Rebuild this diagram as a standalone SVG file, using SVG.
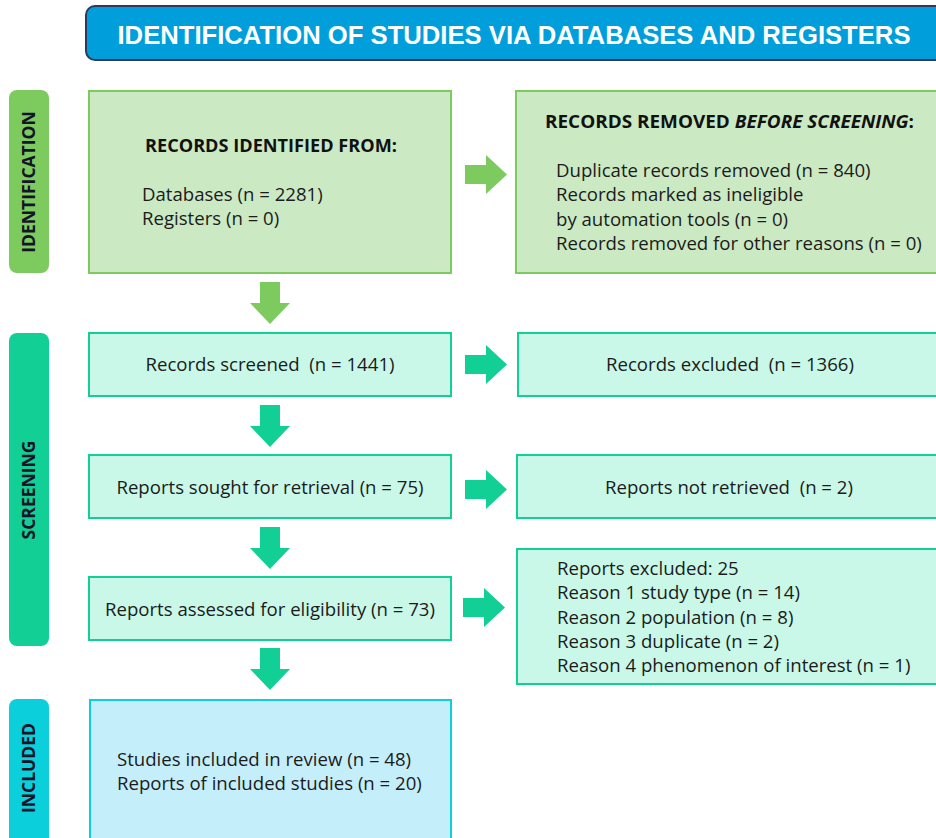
<svg xmlns="http://www.w3.org/2000/svg" width="936" height="838" viewBox="0 0 936 838">
<defs>
<style>
.t{font-family:"Open Sans","DejaVu Sans",sans-serif;font-size:18.6px;fill:#1b1b1b}
.h{font-family:"Open Sans","DejaVu Sans",sans-serif;font-size:17.5px;font-weight:bold;fill:#111}
.side{font-family:"Open Sans","DejaVu Sans",sans-serif;font-size:17.5px;font-weight:bold;fill:#141428}
.idb{fill:#cbe9c3;stroke:#7dcb5f;stroke-width:2}
.scb{fill:#c9f8e8;stroke:#12cf96;stroke-width:2}
.inb{fill:#c5eefb;stroke:#0bcfdb;stroke-width:2}
.ga{fill:#7dcb5f}
.sa{fill:#12cf96}
</style>
<path id="ar" d="M0,10 H21 V0 L42,19.5 L21,39 V29 H0 Z"/>
<path id="ad" d="M10,0 H30 V21 H40 L20,42 L0,21 H10 Z"/>
</defs>

<g id="title">
<rect x="86" y="6" width="862" height="54" rx="9" fill="#009fdb" stroke="#2e3a59" stroke-width="2"/>
<text x="514" y="44" text-anchor="middle" font-family="Liberation Sans, Arial, sans-serif" font-weight="bold" font-size="25" fill="#ffffff" textLength="793" lengthAdjust="spacingAndGlyphs">IDENTIFICATION OF STUDIES VIA DATABASES AND REGISTERS</text>
</g>

<g id="side-identification">
<rect x="9" y="90" width="40" height="183" rx="8" fill="#7dcb5f"/>
<text class="side" transform="translate(35,182) rotate(-90)" text-anchor="middle">IDENTIFICATION</text>
</g>
<g id="side-screening">
<rect x="9" y="333" width="40" height="313" rx="8" fill="#12cf96"/>
<text class="side" transform="translate(35,490) rotate(-90)" text-anchor="middle">SCREENING</text>
</g>
<g id="side-included">
<rect x="9" y="699" width="40" height="150" rx="8" fill="#0bcfdb"/>
<text class="side" transform="translate(35,768) rotate(-90)" text-anchor="middle">INCLUDED</text>
</g>

<g id="records-identified">
<rect class="idb" x="89" y="91" width="362" height="182"/>
<text class="h" x="145" y="152" textLength="252" lengthAdjust="spacingAndGlyphs">RECORDS IDENTIFIED FROM:</text>
<text class="t" x="142" y="201">Databases (n = 2281)</text>
<text class="t" x="142" y="225">Registers (n = 0)</text>
</g>

<g id="records-removed">
<rect class="idb" x="516" y="91" width="430" height="182"/>
<text class="h" x="545" y="128" textLength="369" lengthAdjust="spacingAndGlyphs">RECORDS REMOVED <tspan font-style="italic">BEFORE SCREENING</tspan>:</text>
<text class="t" x="556" y="177">Duplicate records removed (n = 840)</text>
<text class="t" x="556" y="201">Records marked as ineligible</text>
<text class="t" x="556" y="226">by automation tools (n = 0)</text>
<text class="t" x="556" y="250">Records removed for other reasons (n = 0)</text>
</g>

<g id="records-screened">
<rect class="scb" x="89" y="333" width="362" height="63"/>
<text class="t" x="270" y="371" text-anchor="middle" xml:space="preserve">Records screened  (n = 1441)</text>
</g>
<g id="records-excluded">
<rect class="scb" x="518" y="333" width="428" height="63"/>
<text class="t" x="730" y="371" text-anchor="middle" xml:space="preserve">Records excluded  (n = 1366)</text>
</g>

<g id="reports-sought">
<rect class="scb" x="89" y="455" width="362" height="63"/>
<text class="t" x="270" y="494" text-anchor="middle">Reports sought for retrieval (n = 75)</text>
</g>
<g id="reports-not-retrieved">
<rect class="scb" x="517" y="455" width="429" height="63"/>
<text class="t" x="729" y="494" text-anchor="middle" xml:space="preserve">Reports not retrieved  (n = 2)</text>
</g>

<g id="reports-assessed">
<rect class="scb" x="89" y="577" width="362" height="63"/>
<text class="t" x="270" y="616" text-anchor="middle">Reports assessed for eligibility (n = 73)</text>
</g>
<g id="reports-excluded">
<rect class="scb" x="517" y="549" width="429" height="135"/>
<text class="t" x="557" y="575">Reports excluded: 25</text>
<text class="t" x="557" y="599">Reason 1 study type (n = 14)</text>
<text class="t" x="557" y="624">Reason 2 population (n = 8)</text>
<text class="t" x="557" y="648">Reason 3 duplicate (n = 2)</text>
<text class="t" x="557" y="672">Reason 4 phenomenon of interest (n = 1)</text>
</g>

<g id="included">
<rect class="inb" x="90" y="700" width="361" height="150"/>
<text class="t" x="117" y="766">Studies included in review (n = 48)</text>
<text class="t" x="117" y="790">Reports of included studies (n = 20)</text>
</g>

<g id="connectors">
<use href="#ar" class="ga" x="465" y="155"/>
<use href="#ad" class="ga" x="250" y="282"/>
<use href="#ar" class="sa" x="465" y="345"/>
<use href="#ad" class="sa" x="250" y="405"/>
<use href="#ar" class="sa" x="465" y="470"/>
<use href="#ad" class="sa" x="250" y="527"/>
<use href="#ar" class="sa" x="463" y="588"/>
<use href="#ad" class="sa" x="250" y="648"/>
</g>
</svg>
